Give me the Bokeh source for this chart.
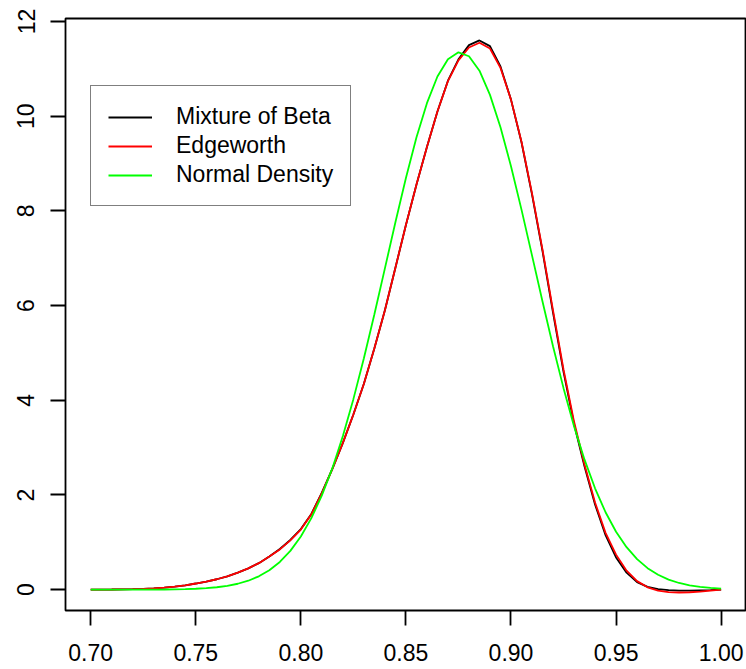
from bokeh.plotting import figure
from bokeh.models import Range1d, FixedTicker, Legend, LegendItem
from bokeh.embed import file_html
from bokeh.resources import INLINE

x_vals = [0.700, 0.705, 0.710, 0.715, 0.720, 0.725, 0.730, 0.735, 0.740, 0.745,
          0.750, 0.755, 0.760, 0.765, 0.770, 0.775, 0.780, 0.785, 0.790, 0.795,
          0.800, 0.805, 0.810, 0.815, 0.820, 0.825, 0.830, 0.835, 0.840, 0.845,
          0.850, 0.855, 0.860, 0.865, 0.870, 0.875, 0.880, 0.885, 0.890, 0.895,
          0.900, 0.905, 0.910, 0.915, 0.920, 0.925, 0.930, 0.935, 0.940, 0.945,
          0.950, 0.955, 0.960, 0.965, 0.970, 0.975, 0.980, 0.985, 0.990, 0.995,
          1.000]

mixture_beta = [0.000, 0.001, 0.003, 0.006, 0.010, 0.017, 0.027, 0.042, 0.063, 0.092,
                0.13, 0.17, 0.22, 0.28, 0.36, 0.45, 0.56, 0.70, 0.86, 1.05,
                1.28, 1.60, 2.05, 2.55, 3.10, 3.70, 4.35, 5.10, 5.90, 6.80,
                7.70, 8.55, 9.35, 10.10, 10.75, 11.20, 11.50, 11.60, 11.48, 11.05,
                10.35, 9.45, 8.35, 7.15, 5.85, 4.60, 3.50, 2.60, 1.80, 1.15,
                0.68, 0.36, 0.16, 0.06, 0.01, -0.01, -0.02, -0.02, -0.015, -0.01,
                0.0]

edgeworth = [0.000, 0.001, 0.003, 0.006, 0.010, 0.017, 0.027, 0.042, 0.063, 0.092,
             0.13, 0.17, 0.22, 0.28, 0.36, 0.45, 0.56, 0.70, 0.85, 1.04,
             1.27, 1.59, 2.04, 2.55, 3.10, 3.70, 4.35, 5.10, 5.90, 6.80,
             7.70, 8.55, 9.35, 10.10, 10.74, 11.18, 11.45, 11.55, 11.43, 11.02,
             10.35, 9.46, 8.37, 7.18, 5.90, 4.65, 3.55, 2.64, 1.84, 1.20,
             0.74, 0.40, 0.18, 0.05, -0.02, -0.05, -0.06, -0.055, -0.04, -0.02,
             0.0]

normal_density = [0.000, 0.0001, 0.0002, 0.0003, 0.0006, 0.0012, 0.0022, 0.0038, 0.0067, 0.0115,
                  0.019, 0.032, 0.051, 0.081, 0.125, 0.189, 0.282, 0.410, 0.586, 0.819,
                  1.124, 1.510, 1.990, 2.566, 3.246, 4.024, 4.886, 5.817, 6.786, 7.760,
                  8.695, 9.548, 10.275, 10.838, 11.203, 11.348, 11.266, 10.96, 10.45, 9.766,
                  8.944, 8.027, 7.061, 6.087, 5.141, 4.256, 3.453, 2.746, 2.141, 1.635,
                  1.223, 0.897, 0.644, 0.454, 0.314, 0.212, 0.141, 0.0915, 0.0583, 0.0364,
                  0.0223]

series_names = ["Mixture of Beta", "Edgeworth", "Normal Density"]
series_colors = ["#000000", "#FF0000", "#00FF00"]
x_ticks = [0.70, 0.75, 0.80, 0.85, 0.90, 0.95, 1.00]
x_tick_labels = ["0.70", "0.75", "0.80", "0.85", "0.90", "0.95", "1.00"]
y_ticks = [0, 2, 4, 6, 8, 10, 12]

FONT = "Liberation Sans"

p = figure(width=746, height=669, output_backend="svg", toolbar_location=None,
           x_range=Range1d(0.688, 1.0116), y_range=Range1d(-0.44, 12.063),
           min_border_left=65, min_border_right=1, min_border_top=18, min_border_bottom=59)
p.background_fill_color = "white"
p.border_fill_color = "white"
p.outline_line_color = "black"
p.outline_line_width = 1.8
p.xgrid.visible = False
p.ygrid.visible = False

for ax in (p.xaxis[0], p.yaxis[0]):
    ax.axis_line_color = None
    ax.major_tick_in = 0
    ax.major_tick_out = 15
    ax.major_tick_line_width = 1.8
    ax.major_tick_line_color = "black"
    ax.minor_tick_line_color = None
    ax.major_label_text_font = FONT
    ax.major_label_text_font_size = "23px"
    ax.major_label_text_color = "black"

p.xaxis[0].ticker = FixedTicker(ticks=x_ticks)
p.xaxis[0].major_label_overrides = {t: l for t, l in zip(x_ticks, x_tick_labels)}
p.xaxis[0].major_label_standoff = 18
p.yaxis[0].ticker = FixedTicker(ticks=y_ticks)
p.yaxis[0].major_label_orientation = "vertical"
p.yaxis[0].major_label_standoff = 16

renderers = []
for ys, c in zip([mixture_beta, edgeworth, normal_density], series_colors):
    r = p.line(x_vals, ys, line_color=c, line_width=1.8)
    renderers.append(r)

legend = Legend(items=[LegendItem(label=n, renderers=[r]) for n, r in zip(series_names, renderers)],
                location=(25, 404), margin=0, padding=17, spacing=2,
                glyph_width=44, glyph_height=24, label_height=24, label_standoff=24,
                label_text_font=FONT, label_text_font_size="23px", label_text_color="black",
                border_line_color="black", border_line_width=1.5,
                background_fill_color="white", background_fill_alpha=1.0)
p.add_layout(legend, "center")

open("out.html", "w").write(file_html(p, INLINE))
